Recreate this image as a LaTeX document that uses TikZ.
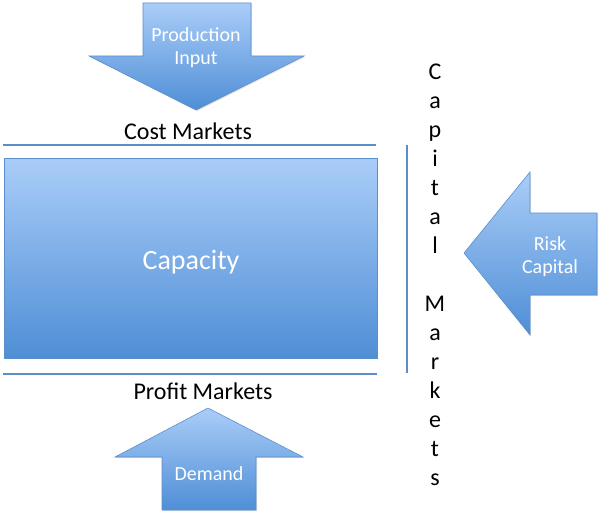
\documentclass[tikz,border=0pt]{standalone}
\usepackage{fontspec}
\setmainfont{Carlito}
\usetikzlibrary{shadows}
\definecolor{topblue}{HTML}{AACDF8}
\definecolor{botblue}{HTML}{4F8ED6}
\definecolor{edgeblue}{HTML}{5B8FCB}
\definecolor{rulecol}{HTML}{5B8DC6}
\tikzset{
  x=1pt, y=-1pt,
  blueshape/.style={draw=edgeblue, line width=0.6pt, top color=topblue, bottom color=botblue, drop shadow={shadow xshift=1pt, shadow yshift=-1pt, opacity=0.25}},
  whitetxt/.style={text=white, align=center, inner sep=0pt},
  blacktxt/.style={text=black, align=center, inner sep=0pt},
  rulel/.style={draw=rulecol, line width=1.8pt}
}
\begin{document}
\begin{tikzpicture}
\useasboundingbox (0,0) rectangle (601,516);
% top arrow
\path[blueshape] (143,3) -- (251,3) -- (251,56) -- (304,56) -- (196,110) -- (89,56) -- (143,56) -- cycle;
\node[whitetxt, font=\fontsize{20}{23}\selectfont] (prod) at (196,48) {Production\\Input};
% cost markets
\node[blacktxt, font=\fontsize{24}{28}\selectfont] (cost) at (188,131) {Cost Markets};
\coordinate (c1) at (3,145); \coordinate (c2) at (376,145);
\draw[rulel] (c1) -- (c2);
% capacity
\path[blueshape] (4,158) rectangle (377,358);
\node[whitetxt, font=\fontsize{28}{32}\selectfont] (cap) at (191,262) {Capacity};
% bottom line
\coordinate (p1) at (3,374); \coordinate (p2) at (377,374);
\draw[rulel] (p1) -- (p2);
\node[blacktxt, font=\fontsize{24}{28}\selectfont] (profit) at (203,391) {Profit Markets};
% bottom arrow
\path[blueshape] (208,408) -- (303,457) -- (256,457) -- (256,510) -- (162,510) -- (162,457) -- (115,457) -- cycle;
\node[whitetxt, font=\fontsize{20}{24}\selectfont] (dem) at (209,474) {Demand};
% vertical line
\coordinate (v1) at (407,145); \coordinate (v2) at (407,373);
\draw[rulel] (v1) -- (v2);
% capital markets column
\node[blacktxt, font=\fontsize{24}{29}\selectfont, anchor=north] (capm) at (435,64) {C\\a\\p\\i\\t\\a\\l\\\strut\\M\\a\\r\\k\\e\\t\\s};
% right arrow
\path[blueshape] (464,253) -- (530,172) -- (530,213) -- (597,213) -- (597,295) -- (530,295) -- (530,335) -- cycle;
\node[whitetxt, font=\fontsize{20}{23}\selectfont] (risk) at (550,257) {Risk\\Capital};
\end{tikzpicture}
\end{document}
